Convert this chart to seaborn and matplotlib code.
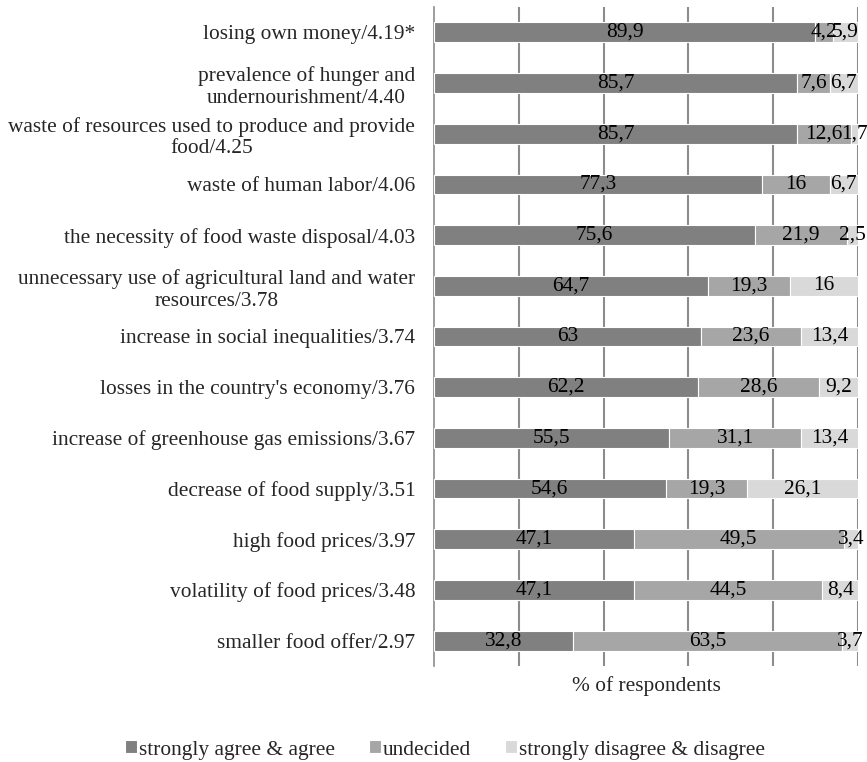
import matplotlib.pyplot as plt
import numpy as np
import pandas as pd
import seaborn as sns

categories = [
    "losing own money/4.19*",
    "prevalence of hunger and\nundernourishment/4.40",
    "waste of resources used to produce and provide\nfood/4.25",
    "waste of human labor/4.06",
    "the necessity of food waste disposal/4.03",
    "unnecessary use of agricultural land and water\nresources/3.78",
    "increase in social inequalities/3.74",
    "losses in the country's economy/3.76",
    "increase of greenhouse gas emissions/3.67",
    "decrease of food supply/3.51",
    "high food prices/3.97",
    "volatility of food prices/3.48",
    "smaller food offer/2.97",
]
agree = [89.9, 85.7, 85.7, 77.3, 75.6, 64.7, 63, 62.2, 55.5, 54.6, 47.1, 47.1, 32.8]
undecided = [4.2, 7.6, 12.6, 16, 21.9, 19.3, 23.6, 28.6, 31.1, 19.3, 49.5, 44.5, 63.5]
disagree = [5.9, 6.7, 1.7, 6.7, 2.5, 16, 13.4, 9.2, 13.4, 26.1, 3.4, 8.4, 3.7]

series_names = ["strongly agree & agree", "undecided", "strongly disagree & disagree"]
colors = ["#808080", "#a6a6a6", "#d9d9d9"]

sns.set_style("white")
plt.rcParams["font.family"] = ["Liberation Serif", "DejaVu Serif"]

df = pd.DataFrame({
    "category": categories,
    series_names[0]: agree,
    series_names[1]: undecided,
    series_names[2]: disagree,
})

fig = plt.figure(figsize=(8.67, 7.62), dpi=100)
ax = fig.add_axes([0.5006, 0.126, 0.4890, 0.8648])

fs = 15.4
y = np.arange(len(categories))
left = np.zeros(len(categories))
handles = []
for name, color in zip(series_names, colors):
    vals = df[name].to_numpy()
    bars = ax.barh(y, vals, left=left, height=0.39, color=color,
                   edgecolor="white", linewidth=0.8, label=name, zorder=3)
    handles.append(bars)
    for yi, l, v in zip(y, left, vals):
        txt = f"{v:g}".replace(".", ",")
        ax.text(l + v / 2, yi, txt, ha="center", va="center",
                fontsize=fs, color="black", zorder=4)
    left = left + vals

ax.set_xlim(0, 100)
ax.set_ylim(len(categories) - 0.5, -0.5)
ax.set_xticks([20, 40, 60, 80, 100])
ax.set_xticklabels([])
ax.tick_params(axis="x", length=0)
ax.grid(True, axis="x", color="#8c8c8c", linewidth=1.5, zorder=0)
ax.grid(False, axis="y")

ax.set_yticks(y)
ax.set_yticklabels(categories, fontsize=fs, multialignment="center")
ax.tick_params(axis="y", which="major", length=0, pad=13.5)
ax.set_yticks(np.arange(-0.5, len(categories), 1), minor=True)
ax.tick_params(axis="y", which="minor", length=6, width=1.2, color="#8c8c8c", direction="out")

for side in ["top", "right", "bottom"]:
    ax.spines[side].set_visible(False)
ax.spines["left"].set_color("#8c8c8c")
ax.spines["left"].set_linewidth(1.2)

ax.set_xlabel("% of respondents", fontsize=fs, labelpad=4)

fig.legend(handles=handles, labels=series_names, loc="center",
           bbox_to_anchor=(445 / 867, 1 - 750 / 762), ncol=3, frameon=False, fontsize=fs,
           handlelength=0.55, handleheight=0.55, handletextpad=0.1,
           columnspacing=1.6)

fig.savefig("out.png", dpi=100)
